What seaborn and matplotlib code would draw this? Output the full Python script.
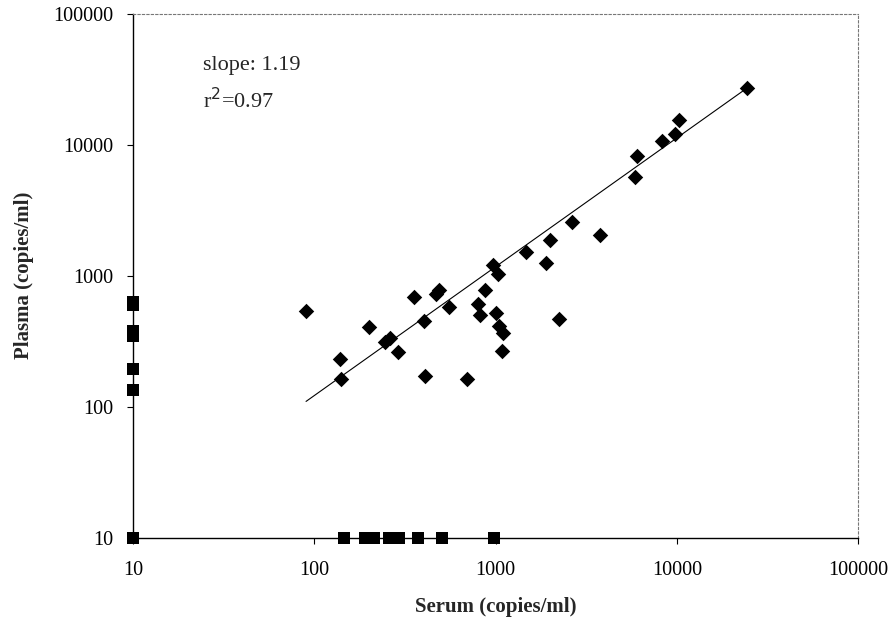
import matplotlib as mpl
mpl.use("Agg")
import matplotlib.pyplot as plt
import matplotlib.ticker as mticker
import pandas as pd
import seaborn as sns

sns.set_theme(style="white")
plt.rcParams["font.family"] = ["Liberation Serif", "DejaVu Serif"]

# paired samples, both detected
serum = [90, 139, 141, 200, 245, 261, 289, 356, 402, 406, 486, 470, 552, 699,
         800, 821, 877, 971, 1035, 1002, 1047, 1093, 1085, 1473, 1903, 1986,
         2655, 2240, 3767, 5851, 6025, 8276, 9705, 10260, 24290]
plasma = [537, 231, 163, 405, 311, 334, 262, 686, 450, 173, 785, 730, 578, 163,
          607, 500, 776, 1216, 1040, 521, 412, 369, 268, 1518, 1260, 1862,
          2572, 467, 2037, 5665, 8184, 10770, 12100, 15560, 26990]

# one of the two below detection (plotted at 10)
serum_nd = [10, 10, 10, 10, 10, 10, 10, 146, 190, 213, 258, 293, 373, 503, 984]
plasma_nd = [10, 600, 635, 345, 380, 196, 135, 10, 10, 10, 10, 10, 10, 10, 10]

# regression line, read at its two ends
fit_x = [90, 24290]
fit_y = [110, 27000]

pos = pd.DataFrame({"serum": serum, "plasma": plasma})
neg = pd.DataFrame({"serum": serum_nd, "plasma": plasma_nd})
fit = pd.DataFrame({"serum": fit_x, "plasma": fit_y})

fig = plt.figure(figsize=(8.93, 6.24), dpi=100)
ax = fig.add_axes([0.149, 0.138, 0.812, 0.840])

sns.lineplot(data=fit, x="serum", y="plasma", color="black", linewidth=0.8, ax=ax)
sns.scatterplot(data=neg, x="serum", y="plasma", marker="s", s=80, color="black",
                edgecolor="black", linewidth=0, clip_on=False, zorder=4, ax=ax)
sns.scatterplot(data=pos, x="serum", y="plasma", marker="D", s=62, color="black",
                edgecolor="black", linewidth=0, zorder=5, ax=ax)

ax.set_xscale("log")
ax.set_yscale("log")
ax.set_xlim(10, 100000)
ax.set_ylim(10, 100000)
ax.xaxis.set_major_formatter(mticker.FuncFormatter(lambda v, p: f"{v:.0f}"))
ax.yaxis.set_major_formatter(mticker.FuncFormatter(lambda v, p: f"{v:.0f}"))
ax.xaxis.set_minor_locator(mticker.NullLocator())
ax.yaxis.set_minor_locator(mticker.NullLocator())
ax.tick_params(axis="both", which="major", labelsize=14.5, length=4, width=0.8,
               color="black", labelcolor="black", direction="out")
ax.tick_params(axis="x", pad=13)
ax.tick_params(axis="y", pad=10)
ax.tick_params(bottom=True, left=True)

for side in ["left", "bottom"]:
    ax.spines[side].set_color("black")
    ax.spines[side].set_linewidth(1.0)
for side in ["top", "right"]:
    ax.spines[side].set_color("#777777")
    ax.spines[side].set_linewidth(0.8)
    ax.spines[side].set_linestyle((0, (2, 2)))

ax.set_xlabel("Serum (copies/ml)", fontsize=15, fontweight="bold", labelpad=12)
ax.set_ylabel("Plasma (copies/ml)", fontsize=15, fontweight="bold", labelpad=14)

ax.text(0.097, 0.902, "slope: 1.19", transform=ax.transAxes, fontsize=16, va="center")
ax.text(0.097, 0.835, "r$^2$=0.97", transform=ax.transAxes, fontsize=16, va="center")

fig.savefig("out.png", dpi=100)
